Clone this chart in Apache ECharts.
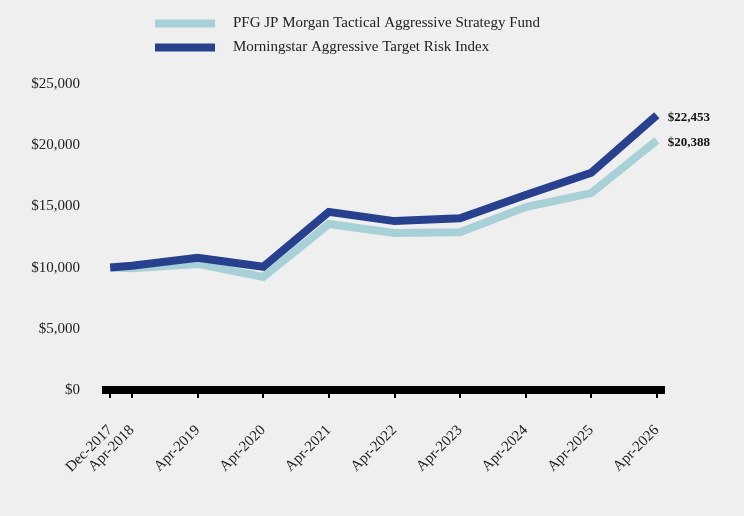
<!DOCTYPE html>
<html>
<head>
<meta charset="utf-8">
<script src="https://cdn.jsdelivr.net/npm/echarts@6/dist/echarts.min.js"></script>
<style>
  html, body { margin: 0; padding: 0; background: #efefef; }
  #chart { width: 744px; height: 516px; }
</style>
</head>
<body>
<div id="chart"></div>
<script>
// months since Dec-2017 for each date on the axis
const dateLabels = ["Dec-2017", "Apr-2018", "Apr-2019", "Apr-2020", "Apr-2021", "Apr-2022", "Apr-2023", "Apr-2024", "Apr-2025", "Apr-2026"];
const monthPos = [0, 4, 16, 28, 40, 52, 64, 76, 88, 100];

const fundName = "PFG JP Morgan Tactical Aggressive Strategy Fund";
const indexName = "Morningstar Aggressive Target Risk Index";

const fundValues = [10000, 9950, 10300, 9230, 13560, 12830, 12880, 14950, 16090, 20388];
const indexValues = [10000, 10150, 10810, 10070, 14550, 13800, 14030, 15930, 17750, 22453];

const yTicks = [0, 5000, 10000, 15000, 20000, 25000];

const font = "'Liberation Serif', 'Times New Roman', serif";

const chart = echarts.init(document.getElementById("chart"), null, { renderer: "canvas" });

const money = (v) => "$" + Math.round(v).toLocaleString("en-US");

const pairs = (vals) => monthPos.map((m, i) => [m, vals[i]]);

const option = {
  backgroundColor: "#efefef",
  animation: false,
  textStyle: { fontFamily: font },
  legend: {
    orient: "vertical",
    left: 150,
    top: 10,
    icon: "rect",
    itemWidth: 60,
    itemHeight: 8,
    itemGap: 7,
    textStyle: { fontFamily: font, fontSize: 15, color: "#222", padding: [0, 0, 0, 13], lineHeight: 17 },
    data: [fundName, indexName]
  },
  grid: { left: 102, right: 79, top: 84, bottom: 126, containLabel: false },
  xAxis: {
    type: "value",
    min: -1.5,
    max: 101.5,
    splitLine: { show: false },
    axisLine: { show: true, onZero: false, lineStyle: { color: "#000", width: 8, cap: "butt" } },
    axisTick: { show: true, customValues: monthPos, length: 8, lineStyle: { color: "#000", width: 2 } },
    axisLabel: {
      customValues: monthPos,
      rotate: 45,
      margin: 38,
      fontFamily: font,
      fontSize: 15,
      color: "#222",
      formatter: (v) => dateLabels[monthPos.indexOf(v)] || ""
    }
  },
  yAxis: {
    type: "value",
    min: yTicks[0],
    max: yTicks[yTicks.length - 1],
    interval: 5000,
    splitLine: { show: false },
    axisLine: { show: false },
    axisTick: { show: false },
    axisLabel: { fontFamily: font, fontSize: 15, color: "#222", margin: 22, formatter: money }
  },
  series: [
    {
      name: fundName,
      type: "line",
      data: pairs(fundValues),
      symbol: "none",
      color: "#a7d1d6",
      lineStyle: { width: 8, color: "#a7d1d6", cap: "butt", join: "miter" },
      endLabel: { show: true, distance: 11, offset: [0, 2], fontFamily: font, fontSize: 13, fontWeight: "bold", color: "#111", formatter: (p) => money(p.value[1]) }
    },
    {
      name: indexName,
      type: "line",
      data: pairs(indexValues),
      symbol: "none",
      color: "#27418e",
      lineStyle: { width: 8, color: "#27418e", cap: "butt", join: "miter" },
      endLabel: { show: true, distance: 11, offset: [0, 2], fontFamily: font, fontSize: 13, fontWeight: "bold", color: "#111", formatter: (p) => money(p.value[1]) }
    }
  ]
};

chart.setOption(option);
window.addEventListener("resize", chart.resize);
</script>
</body>
</html>
